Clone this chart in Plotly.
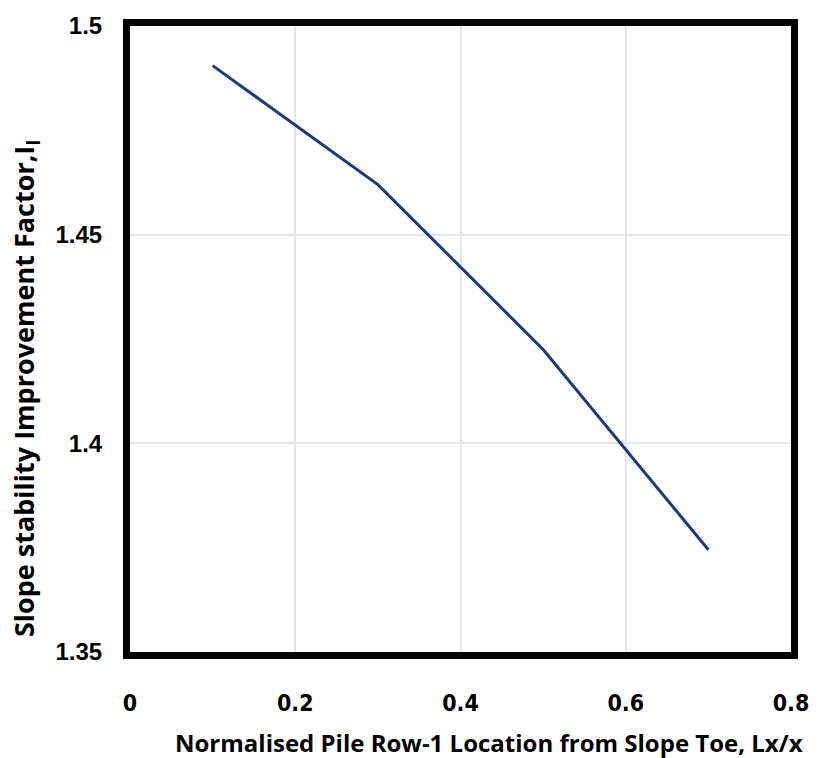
import plotly.graph_objects as go

x_vals = [0.1, 0.3, 0.5, 0.7]
y_vals = [1.4905, 1.462, 1.4225, 1.3745]

x_ticks = [0, 0.2, 0.4, 0.6, 0.8]
x_ticktext = ["0", "0.2", "0.4", "0.6", "0.8"]
y_ticks = [1.35, 1.4, 1.45, 1.5]
y_ticktext = ["1.35", "1.4", "1.45", "1.5"]

x_title = "Normalised Pile Row-1 Location from Slope Toe, Lx/x"
y_title = "Slope stability Improvement Factor,I<sub>I</sub>"

fig = go.Figure()
fig.add_trace(go.Scatter(
    x=x_vals, y=y_vals, mode="lines",
    line=dict(color="#1b3a7a", width=3),
    showlegend=False,
))

fig.update_layout(
    width=821, height=758,
    margin=dict(l=130, r=24, t=21, b=106),
    paper_bgcolor="white", plot_bgcolor="white",
    xaxis=dict(
        range=[0, 0.8],
        tickvals=x_ticks, ticktext=x_ticktext,
        showgrid=True, gridcolor="#e4e7ea", gridwidth=1.5,
        zeroline=False,
        showline=True, linecolor="black", linewidth=7, mirror=True,
        ticks="outside", ticklen=24, tickcolor="rgba(0,0,0,0)",
        tickfont=dict(family="DejaVu Sans Condensed, Liberation Sans Narrow, Liberation Sans", size=23, color="black", weight="bold"),
    ),
    yaxis=dict(
        range=[1.35, 1.5],
        tickvals=y_ticks, ticktext=y_ticktext,
        showgrid=True, gridcolor="#e4e7ea", gridwidth=1.5,
        zeroline=False,
        showline=True, linecolor="black", linewidth=7, mirror=True,
        ticks="outside", ticklen=16, tickcolor="rgba(0,0,0,0)",
        tickfont=dict(family="Liberation Sans, Arial", size=24, color="black", weight="bold"),
    ),
    annotations=[
        dict(text="<b>" + x_title + "</b>", xref="paper", yref="paper",
             x=(492 - 130) / 667, y=-(743 - 652) / 631, xanchor="center", yanchor="middle",
             showarrow=False, font=dict(family="Open Sans", size=24, color="black")),
        dict(text="<b>" + y_title + "</b>", xref="paper", yref="paper",
             x=-(130 - 24) / 667, y=(652 - 386) / 631, xanchor="center", yanchor="middle",
             textangle=-90,
             showarrow=False, font=dict(family="Open Sans", size=27, color="black")),
    ],
)

fig.write_html("out.html")
